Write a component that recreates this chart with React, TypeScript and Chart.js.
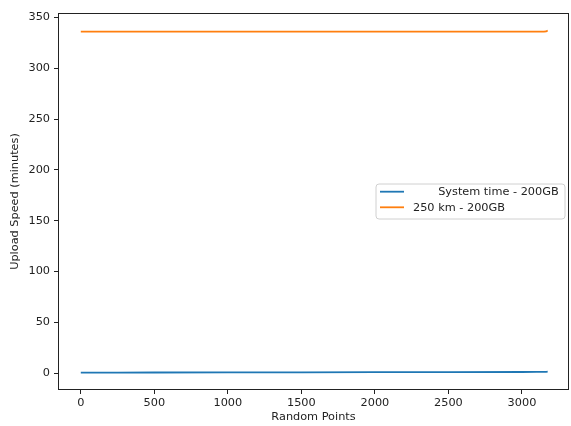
import React, { useEffect, useRef } from "react";
import { Chart, registerables } from "chart.js";

Chart.register(...registerables);

const xPoints = [0, 250, 500, 1000, 1500, 2000, 2500, 3000, 3100, 3150, 3165, 3175];
const systemTime = [0.5, 0.5, 0.6, 0.7, 0.8, 0.9, 1.0, 1.1, 1.2, 1.2, 1.3, 1.4];
const km250 = [336, 336, 336, 336, 336, 336, 336, 336, 336, 336, 336.3, 337.2];
const xTicks = [0, 500, 1000, 1500, 2000, 2500, 3000];
const yTicks = [0, 50, 100, 150, 200, 250, 300, 350];
const seriesLabels = ["       System time - 200GB", "250 km - 200GB"];
const seriesColors = ["#1f77b4", "#ff7f0e"];

const FONT = "DejaVu Sans";
const FS = 11.3;

const framePlugin = {
  id: "frame",
  afterDatasetsDraw(chart: any) {
    const { ctx, chartArea } = chart;
    ctx.save();
    ctx.strokeStyle = "#222";
    ctx.lineWidth = 1;
    ctx.strokeRect(
      Math.round(chartArea.left) + 0.5,
      Math.round(chartArea.top) + 0.5,
      Math.round(chartArea.right - chartArea.left) - 1,
      Math.round(chartArea.bottom - chartArea.top) - 1
    );
    ctx.restore();
  },
  afterDraw(chart: any) {
    const { ctx } = chart;
    const bx = 376, by = 184, bw = 189, bh = 35;
    ctx.save();
    ctx.beginPath();
    const r = 3;
    ctx.moveTo(bx + r, by);
    ctx.arcTo(bx + bw, by, bx + bw, by + bh, r);
    ctx.arcTo(bx + bw, by + bh, bx, by + bh, r);
    ctx.arcTo(bx, by + bh, bx, by, r);
    ctx.arcTo(bx, by, bx + bw, by, r);
    ctx.closePath();
    ctx.fillStyle = "rgba(255,255,255,0.8)";
    ctx.fill();
    ctx.strokeStyle = "#d0d0d0";
    ctx.lineWidth = 1;
    ctx.stroke();
    const rows = [191.7, 207.3];
    chart.data.datasets.forEach((ds: any, i: number) => {
      const y = rows[i];
      ctx.strokeStyle = ds.borderColor;
      ctx.lineWidth = 1.8;
      ctx.beginPath();
      ctx.moveTo(380, y);
      ctx.lineTo(404, y);
      ctx.stroke();
      ctx.fillStyle = "#222";
      ctx.font = `${FS}px "${FONT}"`;
      ctx.textBaseline = "middle";
      ctx.textAlign = "left";
      ctx.fillText(ds.label, 413, y + 0.5);
    });
    ctx.restore();
  },
};

export default function App() {
  const ref = useRef<HTMLCanvasElement | null>(null);
  useEffect(() => {
    document.body.style.margin = "0";
    const canvas = ref.current!;
    const datasets = [systemTime, km250].map((vals, i) => ({
      label: seriesLabels[i],
      data: xPoints.map((x, j) => ({ x, y: vals[j] })),
      borderColor: seriesColors[i],
      backgroundColor: seriesColors[i],
      borderWidth: 1.8,
      pointRadius: 0,
      tension: 0,
      fill: false,
    }));
    const chart = new Chart(canvas, {
      type: "line",
      data: { datasets },
      plugins: [framePlugin],
      options: {
        animation: false,
        responsive: false,
        maintainAspectRatio: false,
        layout: { padding: { left: 0, right: 2, top: 13, bottom: 0 } },
        plugins: { legend: { display: false }, tooltip: { enabled: false } },
        scales: {
          x: {
            type: "linear",
            min: -155,
            max: 3320,
            afterBuildTicks: (s: any) => {
              s.ticks = xTicks.map((v) => ({ value: v }));
            },
            afterFit: (s: any) => {
              s.height = 36;
            },
            grid: {
              display: true,
              drawOnChartArea: false,
              drawTicks: true,
              tickLength: 4,
              color: "#222",
            },
            border: { display: false },
            ticks: {
              color: "#222",
              font: { family: FONT, size: FS },
              padding: 2,
              maxRotation: 0,
              autoSkip: false,
              callback: (v: any) => String(v),
            },
            title: {
              display: true,
              text: "Random Points",
              color: "#222",
              font: { family: FONT, size: FS },
              padding: { top: 1, bottom: 2 },
            },
          },
          y: {
            type: "linear",
            min: -16.6,
            max: 354.4,
            afterBuildTicks: (s: any) => {
              s.ticks = yTicks.map((v) => ({ value: v }));
            },
            afterFit: (s: any) => {
              s.width = 58;
            },
            grid: {
              display: true,
              drawOnChartArea: false,
              drawTicks: true,
              tickLength: 4,
              color: "#222",
            },
            border: { display: false },
            ticks: {
              color: "#222",
              font: { family: FONT, size: FS },
              padding: 4,
              autoSkip: false,
              callback: (v: any) => String(v),
            },
            title: {
              display: true,
              text: "Upload Speed (minutes)",
              color: "#222",
              font: { family: FONT, size: FS },
              padding: { top: 8, bottom: 0 },
            },
          },
        },
      },
    });
    return () => chart.destroy();
  }, []);
  return (
    <div style={{ position: "fixed", left: 0, top: 0, width: 571, height: 426, background: "#fff" }}>
      <canvas ref={ref} width={571} height={426} style={{ width: 571, height: 426, display: "block" }} />
    </div>
  );
}
